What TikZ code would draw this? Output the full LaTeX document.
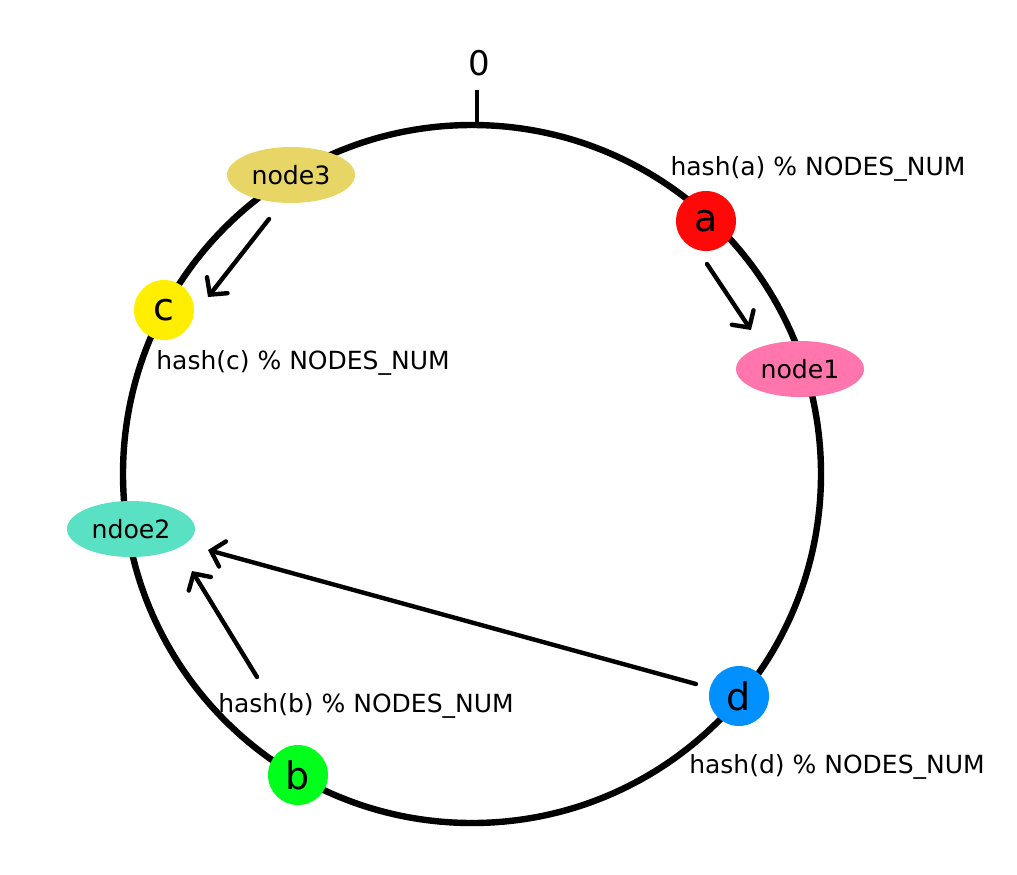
\documentclass[tikz,border=0pt]{standalone}
\usepackage{fontspec}
\setmainfont{DejaVu Sans}
\usetikzlibrary{arrows.meta,shapes.geometric}
\definecolor{cnode3}{RGB}{231,214,101}
\definecolor{cnode1}{RGB}{255,117,172}
\definecolor{cnode2}{RGB}{90,224,194}
\definecolor{ckeya}{RGB}{255,8,8}
\definecolor{ckeyb}{RGB}{0,255,26}
\definecolor{ckeyc}{RGB}{255,238,0}
\definecolor{ckeyd}{RGB}{0,144,255}
\begin{document}
\begin{tikzpicture}[x=0.5pt,y=-0.5pt,
  ring/.style={line width=3.2pt},
  ptr/.style={line width=2.2pt, line cap=round, -{Straight Barb[length=6pt,width=13pt,line cap=round]}},
  key/.style={circle, minimum size=30pt, inner sep=0pt, font=\fontsize{19}{20}\selectfont},
  srv/.style={ellipse, minimum width=64pt, minimum height=28pt, inner sep=0pt, font=\fontsize{12.6}{14}\selectfont},
  lbl/.style={font=\fontsize{12.5}{14}\selectfont, inner sep=0pt}]
\useasboundingbox (0,0) rectangle (1017,874);
% ring
\coordinate (ctr) at (472,474);
\draw[ring] (ctr) circle[radius=349];
\coordinate (tickbot) at (477,126);
\coordinate (ticktop) at (477,90);
\draw[line width=2pt] (tickbot) -- (ticktop);
\node[lbl, font=\fontsize{17}{18}\selectfont] (zero) at (479,63) {0};
% servers
\node[srv, fill=cnode3] (node3) at (291,175) {node3};
\node[srv, fill=cnode1] (node1) at (800,369) {node1};
\node[srv, fill=cnode2] (ndoe2) at (131,529) {ndoe2};
% keys
\node[key, fill=ckeya] (a) at (706,221) {a};
\node[key, fill=ckeyc] (c) at (164,310) {c};
\node[key, fill=ckeyb] (b) at (298,775) {b};
\node[key, fill=ckeyd] (d) at (739,696) {d};
% labels
\node[lbl] (la) at (818,169) {hash(a) \% NODES\_NUM};
\node[lbl] (lc) at (303,363) {hash(c) \% NODES\_NUM};
\node[lbl] (lb) at (366,706) {hash(b) \% NODES\_NUM};
\node[lbl] (ld) at (837,767) {hash(d) \% NODES\_NUM};
% arrows
\coordinate (n3s) at (269,219);
\coordinate (n3t) at (208,297);
\coordinate (as) at (707,264);
\coordinate (at) at (751,330);
\coordinate (bs) at (257,677);
\coordinate (bt) at (192,571);
\coordinate (ds) at (696,684);
\coordinate (dt) at (208,550);
\draw[ptr] (n3s) -- (n3t);
\draw[ptr] (as) -- (at);
\draw[ptr] (bs) -- (bt);
\draw[ptr] (ds) -- (dt);
\end{tikzpicture}
\end{document}
